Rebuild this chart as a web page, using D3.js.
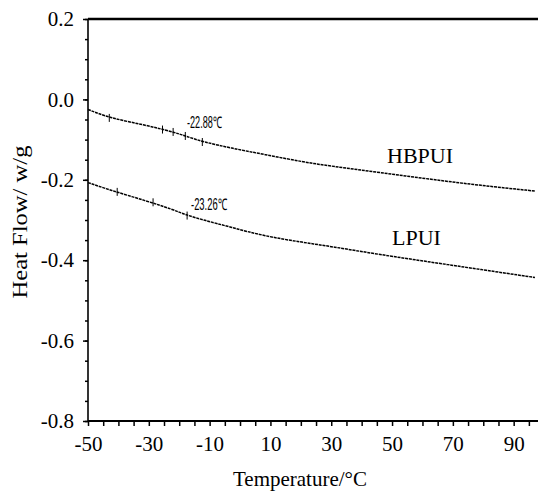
<!DOCTYPE html>
<html>
<head>
<meta charset="utf-8">
<script src="https://cdn.jsdelivr.net/npm/d3@7"></script>
<style>
  body { margin: 0; background: #fff; }
  svg text { font-family: "Liberation Serif", "Times New Roman", serif; fill: #000; }
  svg text.note { font-family: "Liberation Sans Narrow", "Liberation Sans", Arial, sans-serif; }
</style>
</head>
<body>
<svg class="dsc-chart" width="538" height="493"></svg>
<script>
// 讀圖得到的數值
const temps = [-50, -43, -31, -22, -18, -12, -3, 8, 21, 30, 46, 63, 79, 97];
const hbpui = [-0.025, -0.046, -0.064, -0.081, -0.091, -0.106, -0.121, -0.137, -0.156, -0.166, -0.182, -0.199, -0.214, -0.228];
const lpui = [-0.207, -0.225, -0.252, -0.274, -0.287, -0.300, -0.318, -0.340, -0.356, -0.366, -0.386, -0.405, -0.423, -0.443];

// 轉變點的短線
const hbMarkT = [-43, -25.5, -22, -18, -12.4];
const hbMarkV = [-0.046, -0.075, -0.081, -0.091, -0.106];
const lpMarkT = [-40.4, -28.6, -17.4];
const lpMarkV = [-0.230, -0.256, -0.289];

const xTickLabels = [-50, -30, -10, 10, 30, 50, 70, 90];
const yTickLabels = ['-0.8', '-0.6', '-0.4', '-0.2', '0.0', '0.2'];

const svg = d3.select('svg.dsc-chart');
const plotLeft = 88;
const plotRight = 538;
const plotTop = 19;
const plotBottom = 421;
const serif = '"Liberation Serif", "Times New Roman", serif';

const x = d3.scaleLinear().domain([-50, 98]).range([plotLeft, plotRight]);
const y = d3.scaleLinear().domain([-0.8, 0.2]).range([plotBottom, plotTop]);

// 清掉 d3 axis 預設字型，改成襯線字
function styleAxis(g) {
  g.attr('font-family', null).attr('font-size', null);
  g.selectAll('.tick line').attr('stroke-width', 1.5);
  g.selectAll('text')
    .attr('font-family', serif)
    .attr('font-size', '21px');
}

// x 軸，每 5 度一個刻度
const xAxis = d3.axisBottom(x)
  .tickValues(d3.range(-50, 98, 5))
  .tickSize(5)
  .tickPadding(10)
  .tickFormat((d) => xTickLabels.includes(d) ? String(d) : '');

svg.append('g')
  .attr('transform', `translate(0,${plotBottom})`)
  .call(xAxis)
  .call(styleAxis)
  .call((g) => g.select('.domain').attr('stroke-width', 2).attr('d', `M${plotLeft},0H${plotRight}`));

// y 軸，次刻度
svg.append('g')
  .attr('transform', `translate(${plotLeft},0)`)
  .call(d3.axisLeft(y).tickValues(d3.range(0, 21).map((i) => -0.8 + i * 0.05)).tickSize(3).tickFormat(''))
  .call(styleAxis)
  .call((g) => g.select('.domain').remove());

// y 軸，主刻度
svg.append('g')
  .attr('transform', `translate(${plotLeft},0)`)
  .call(d3.axisLeft(y).tickValues(yTickLabels.map(Number)).tickSize(5).tickPadding(9)
    .tickFormat((d, i) => yTickLabels[i]))
  .call(styleAxis)
  .call((g) => g.select('.domain').attr('stroke-width', 1.6).attr('d', `M0,${plotBottom}V${plotTop}`));

// 上方粗框線
svg.append('line')
  .attr('x1', plotLeft).attr('x2', plotRight)
  .attr('y1', y(0.2)).attr('y2', y(0.2))
  .attr('stroke', '#000')
  .attr('stroke-width', 2.5);

// 曲線
const line = d3.line()
  .x((d) => x(d[0]))
  .y((d) => y(d[1]))
  .curve(d3.curveBasis);

[hbpui, lpui].forEach((series) => {
  svg.append('path')
    .datum(temps.map((t, i) => [t, series[i]]))
    .attr('d', line)
    .attr('fill', 'none')
    .attr('stroke', '#000')
    .attr('stroke-width', 1.5)
    .attr('stroke-dasharray', '3,0.8');
});

function addMarks(ts, vs) {
  ts.forEach((t, i) => {
    svg.append('line')
      .attr('x1', x(t)).attr('x2', x(t))
      .attr('y1', y(vs[i]) - 4).attr('y2', y(vs[i]) + 4)
      .attr('stroke', '#000')
      .attr('stroke-width', 1);
  });
}
addMarks(hbMarkT, hbMarkV);
addMarks(lpMarkT, lpMarkV);

// 溫度標註
svg.append('text')
  .attr('class', 'note')
  .attr('x', 187).attr('y', 128)
  .attr('font-size', '16px')
  .attr('textLength', 35)
  .attr('lengthAdjust', 'spacingAndGlyphs')
  .text('-22.88℃');

svg.append('text')
  .attr('class', 'note')
  .attr('x', 191).attr('y', 210)
  .attr('font-size', '16px')
  .attr('textLength', 36)
  .attr('lengthAdjust', 'spacingAndGlyphs')
  .text('-23.26℃');

// 系列名稱
svg.append('text')
  .attr('x', 387).attr('y', 163)
  .attr('font-size', '22px')
  .text('HBPUI');

svg.append('text')
  .attr('x', 392).attr('y', 245)
  .attr('font-size', '22px')
  .text('LPUI');

// 軸標題
svg.append('text')
  .attr('x', 300).attr('y', 486)
  .attr('text-anchor', 'middle')
  .attr('font-size', '21px')
  .text('Temperature/°C');

svg.append('text')
  .attr('transform', 'translate(27,222) rotate(-90)')
  .attr('text-anchor', 'middle')
  .attr('font-size', '22px')
  .attr('textLength', 153)
  .attr('lengthAdjust', 'spacingAndGlyphs')
  .text('Heat Flow/ w/g');
</script>
</body>
</html>
